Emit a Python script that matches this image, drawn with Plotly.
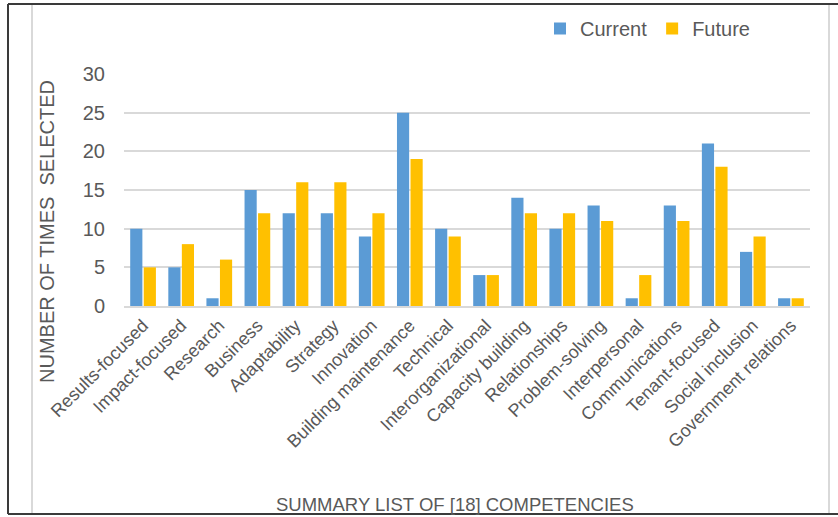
import plotly.graph_objects as go

categories = ["Results-focused", "Impact-focused", "Research", "Business", "Adaptability",
              "Strategy", "Innovation", "Building maintenance", "Technical",
              "Interorganizational", "Capacity building", "Relationships", "Problem-solving",
              "Interpersonal", "Communications", "Tenant-focused", "Social inclusion",
              "Government relations"]
current = [10, 5, 1, 15, 12, 12, 9, 25, 10, 4, 14, 10, 13, 1, 13, 21, 7, 1]
future = [5, 8, 6, 12, 16, 16, 12, 19, 9, 4, 12, 12, 11, 4, 11, 18, 9, 1]
y_ticks = [0, 5, 10, 15, 20, 25, 30]

W, H = 838, 517
L, R, T, B = 124, 28, 74, 211
pw, ph = W - L - R, H - T - B

def px(x):
    return (x - L) / pw

def py(y):
    return (H - B - y) / ph

font = "Liberation Sans, Arial, sans-serif"
grey = "#595959"

fig = go.Figure()
fig.add_trace(go.Bar(name="Current", x=categories, y=current,
                     marker=dict(color="#5b9bd5", line=dict(width=0))))
fig.add_trace(go.Bar(name="Future", x=categories, y=future,
                     marker=dict(color="#ffc000", line=dict(width=0))))

shapes = []
dark = dict(color="#3a3a3a", width=2)
light = dict(color="#d9d9d9", width=2)
shapes.append(dict(type="line", xref="paper", yref="paper", x0=px(8), x1=px(W), y0=py(4), y1=py(4), line=dark))
shapes.append(dict(type="line", xref="paper", yref="paper", x0=px(8), x1=px(8), y0=py(4), y1=py(514), line=dark))
shapes.append(dict(type="line", xref="paper", yref="paper", x0=px(8), x1=px(W), y0=py(514), y1=py(514), line=dark))
shapes.append(dict(type="line", xref="paper", yref="paper", x0=px(32), x1=px(32), y0=py(5), y1=py(513), line=light))
shapes.append(dict(type="line", xref="paper", yref="paper", x0=px(829), x1=px(829), y0=py(5), y1=py(513), line=light))

fig.update_layout(
    width=W, height=H,
    margin=dict(l=L, r=R, t=T, b=B),
    paper_bgcolor="white", plot_bgcolor="white",
    barmode="group", bargap=0.29, bargroupgap=0.1,
    font=dict(family=font, color=grey, size=18),
    showlegend=True,
    legend=dict(orientation="h", xref="container", yref="container",
                x=540 / W, y=1 - 9 / H, xanchor="left", yanchor="top",
                font=dict(size=20, color=grey), itemwidth=30,
                bgcolor="rgba(0,0,0,0)"),
    xaxis=dict(tickangle=-45, tickfont=dict(size=18, color=grey), showgrid=False,
               showline=True, linecolor="#d9d9d9", linewidth=2, ticks="",
               fixedrange=True),
    yaxis=dict(range=[0, 30], tickvals=y_ticks, tickfont=dict(size=20, color=grey),
               showgrid=True, gridcolor="#d9d9d9", gridwidth=2, zeroline=False,
               showline=False, ticks="", ticklabelstandoff=18, fixedrange=True),
    shapes=shapes,
    annotations=[
        dict(text="NUMBER OF TIMES  SELECTED", xref="paper", yref="paper",
             x=px(47), y=py(232), textangle=-90, showarrow=False,
             font=dict(size=20, color=grey), xanchor="center", yanchor="middle"),
        dict(text="SUMMARY LIST OF [18] COMPETENCIES", xref="paper", yref="paper",
             x=px(455), y=py(504), showarrow=False,
             font=dict(size=18.5, color=grey), xanchor="center", yanchor="middle"),
    ],
)

fig.write_html("out.html")
